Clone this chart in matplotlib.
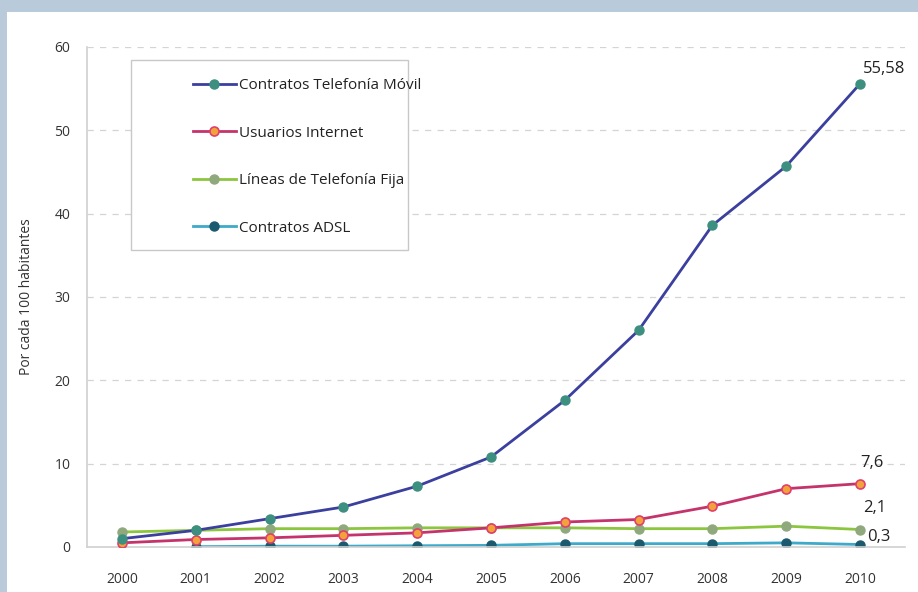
import matplotlib
matplotlib.use("Agg")
import matplotlib.pyplot as plt
from matplotlib.patches import Rectangle

years = [2000, 2001, 2002, 2003, 2004, 2005, 2006, 2007, 2008, 2009, 2010]
movil = [1.0, 2.0, 3.4, 4.8, 7.3, 10.8, 17.6, 26.0, 38.6, 45.7, 55.58]
internet = [0.5, 0.9, 1.1, 1.4, 1.7, 2.3, 3.0, 3.3, 4.9, 7.0, 7.6]
fija = [1.8, 2.0, 2.2, 2.2, 2.3, 2.3, 2.3, 2.2, 2.2, 2.5, 2.1]
adsl_years = years[1:]
adsl = [0.04, 0.1, 0.1, 0.15, 0.2, 0.4, 0.4, 0.4, 0.5, 0.3]

labels = ["Contratos Telefonía Móvil", "Usuarios Internet",
          "Líneas de Telefonía Fija", "Contratos ADSL"]
yticks = [0, 10, 20, 30, 40, 50, 60]
end_labels = ["55,58", "7,6", "2,1", "0,3"]

plt.rcParams['font.family'] = ['Open Sans', 'DejaVu Sans']

fig = plt.figure(figsize=(9.18, 5.92), dpi=100)
fig.patch.set_facecolor("white")

# light blue frame around the chart
fig.patches.append(Rectangle((0, 1 - 12 / 592), 1, 12 / 592, transform=fig.transFigure,
                             facecolor="#b9cadb", edgecolor="none", zorder=0))
fig.patches.append(Rectangle((0, 0), 7 / 918, 1, transform=fig.transFigure,
                             facecolor="#b9cadb", edgecolor="none", zorder=0))

ax = fig.add_axes([87 / 918, 45 / 592, 818 / 918, 500 / 592])
ax.set_xlim(1999.526, 2010.61)
ax.set_ylim(0, 60)

for y in yticks[1:]:
    ax.axhline(y, color="#d4d4d4", lw=0.9, ls=(0, (5, 5)), zorder=0)

for s in ["top", "right"]:
    ax.spines[s].set_visible(False)
ax.spines["left"].set_color("#d0d0d0")
ax.spines["bottom"].set_color("#d0d0d0")
ax.spines["left"].set_linewidth(1.2)
ax.spines["bottom"].set_linewidth(1.2)

ax.set_xticks(years)
ax.set_xticklabels([str(y) for y in years])
ax.set_yticks(yticks)
ax.tick_params(length=0, labelsize=10, colors="#333333", pad=12)
ax.tick_params(axis="x", pad=18)
ax.set_ylabel("Por cada 100 habitantes", fontsize=10, color="#333333", labelpad=15)

ms = 6.5
l1, = ax.plot(years, movil, color="#3b3f9e", lw=2, marker="o", ms=ms,
              mfc="#3d8f80", mec="#3d8f80", zorder=5, label=labels[0])
l2, = ax.plot(years, internet, color="#c4336b", lw=2, marker="o", ms=ms,
              mfc="#f2a23a", mec="#e0406a", mew=1.2, zorder=4, label=labels[1])
l3, = ax.plot(years, fija, color="#8cc63f", lw=2, marker="o", ms=ms,
              mfc="#8fa87c", mec="#8fa87c", zorder=3, label=labels[2])
l4, = ax.plot(adsl_years, adsl, color="#3fa9c9", lw=2, marker="o", ms=ms,
              mfc="#1b5a6e", mec="#1b5a6e", zorder=2, label=labels[3])

txt = dict(fontsize=12, color="#222222", ha="left", va="center")
ax.text(2010.04, 57.4, end_labels[0], **txt)
ax.text(2010.0, 10.1, end_labels[1], **txt)
ax.text(2010.04, 4.7, end_labels[2], **txt)
ax.text(2010.1, 1.2, end_labels[3], **txt)

# legend box
ax.add_patch(Rectangle(((131 - 87) / 818, (547 - 250) / 500), 277 / 818, 190 / 500,
                       transform=ax.transAxes, facecolor="white", edgecolor="#c8c8c8",
                       lw=1, zorder=6))
leg = ax.legend(handles=[l1, l2, l3, l4], loc="upper left",
                bbox_to_anchor=((193 - 87) / 818, (547 - 78) / 500),
                frameon=False, borderpad=0, borderaxespad=0, labelspacing=2.13,
                handlelength=2.8, handletextpad=0.2, fontsize=11, numpoints=1)
leg.set_zorder(7)
for t in leg.get_texts():
    t.set_color("#222222")

fig.savefig("out.png", dpi=100)
